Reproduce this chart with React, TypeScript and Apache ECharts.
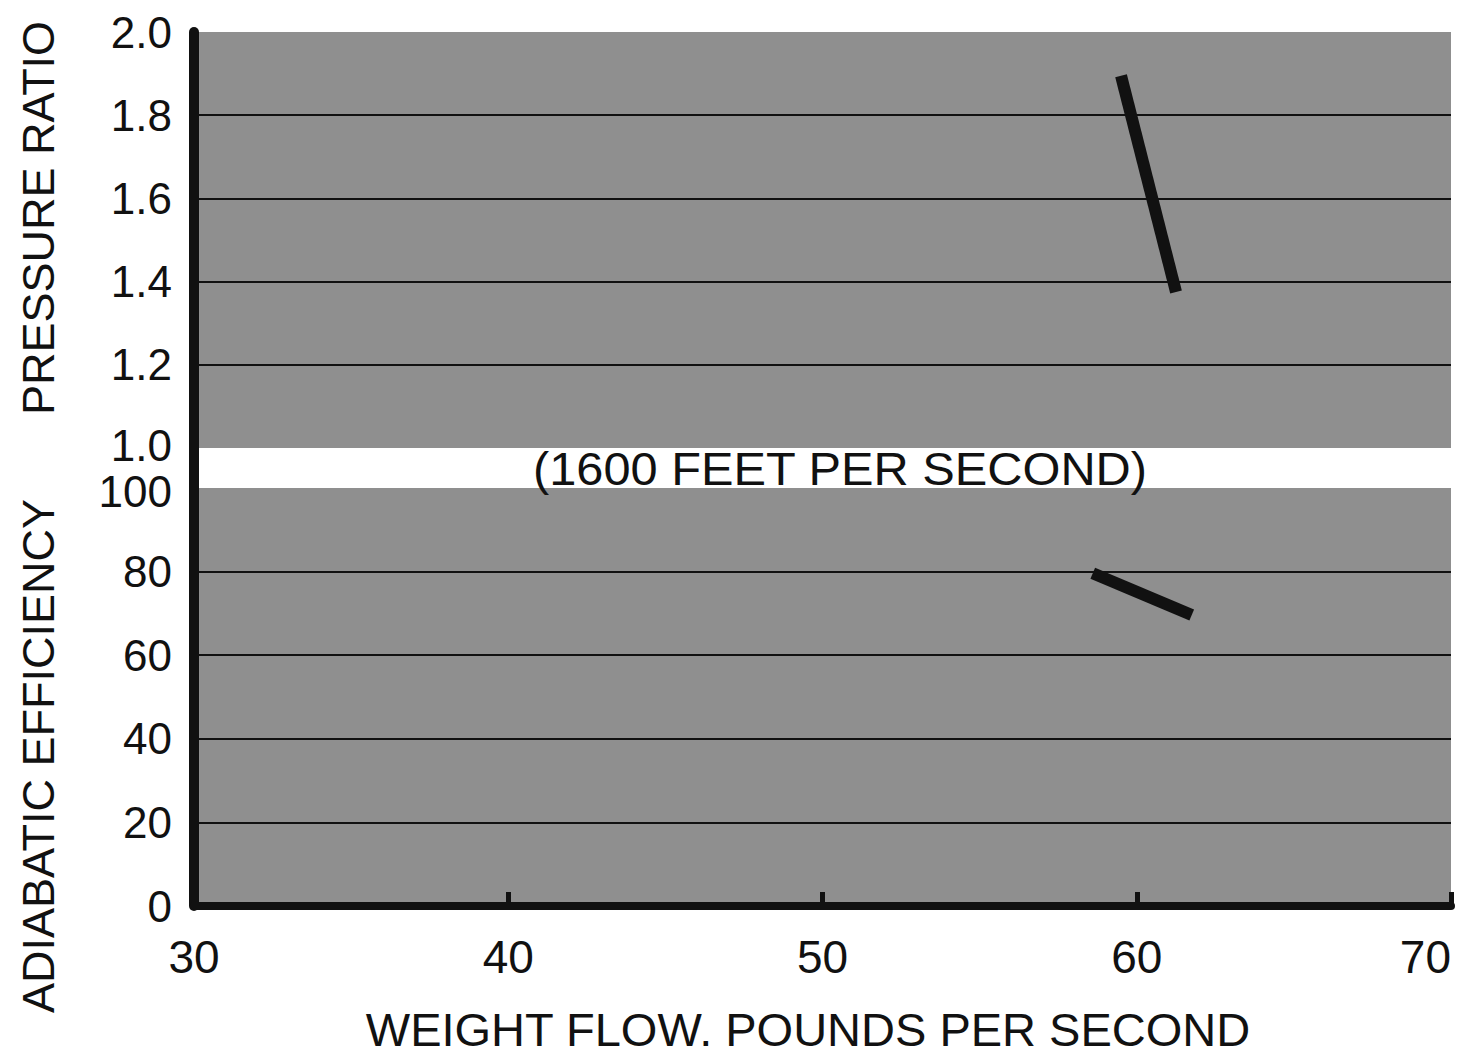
import React, { useEffect, useRef } from "react";
import * as echarts from "echarts";

const xRange = [30, 70];
const xTickStep = 10;
const pressureRange = [1.0, 2.0];
const pressureStep = 0.2;
const efficiencyRange = [0, 100];
const efficiencyStep = 20;

const pressureLine: [number, number][] = [
  [59.5, 1.895],
  [61.25, 1.375],
];
const efficiencyLine: [number, number][] = [
  [58.6, 79.6],
  [61.75, 69.6],
];

const titleTop = "PRESSURE RATIO";
const titleBottom = "ADIABATIC EFFICIENCY";
const xTitle = "WEIGHT FLOW. POUNDS PER SECOND";
const note = "(1600 FEET PER SECOND)";

const FONT = "Liberation Sans";
const GRAY = "#8f8f8f";
const INK = "#111111";

export default function App() {
  const ref = useRef<HTMLDivElement>(null);
  useEffect(() => {
    if (!ref.current) return;
    const chart = echarts.init(ref.current, undefined, { renderer: "svg" });
    const gridCommon = {
      left: 194,
      right: 19,
      show: true,
      backgroundColor: GRAY,
      borderWidth: 0,
      containLabel: false,
      outerBoundsMode: "none",
    };
    const splitLine = {
      show: true,
      showMinLine: false,
      showMaxLine: false,
      lineStyle: { color: INK, width: 2 },
    };
    chart.setOption({
      animation: false,
      backgroundColor: "#ffffff",
      grid: [
        { ...gridCommon, top: 32, height: 416 },
        { ...gridCommon, top: 488, height: 418 },
      ],
      xAxis: [
        {
          type: "value",
          gridIndex: 0,
          min: xRange[0],
          max: xRange[1],
          interval: xTickStep,
          show: false,
          splitLine: { show: false },
        },
        {
          type: "value",
          gridIndex: 1,
          min: xRange[0],
          max: xRange[1],
          interval: xTickStep,
          splitLine: { show: false },
          axisLine: { show: true, onZero: false, lineStyle: { color: INK, width: 8 } },
          axisTick: { show: true, inside: true, length: 14, lineStyle: { color: INK, width: 5 } },
          axisLabel: {
            color: INK,
            fontFamily: FONT,
            fontSize: 46,
            margin: 28,
            alignMaxLabel: "right",
            formatter: (v: number) => String(v),
          },
        },
      ],
      yAxis: [
        {
          type: "value",
          gridIndex: 0,
          min: pressureRange[0],
          max: pressureRange[1],
          interval: pressureStep,
          splitLine,
          axisLine: { show: true, onZero: false, lineStyle: { color: INK, width: 10 } },
          axisTick: { show: false },
          axisLabel: {
            color: INK,
            fontFamily: FONT,
            fontSize: 44,
            margin: 22,
            formatter: (v: number) => (v <= pressureRange[0] + 1e-9 ? "{lo|" + v.toFixed(1) + "}" : v.toFixed(1)),
            rich: { lo: { fontFamily: FONT, fontSize: 44, color: INK, lineHeight: 36, padding: [0, 0, 6, 0] } },
          },
        },
        {
          type: "value",
          gridIndex: 1,
          min: efficiencyRange[0],
          max: efficiencyRange[1],
          interval: efficiencyStep,
          splitLine,
          axisLine: { show: true, onZero: false, lineStyle: { color: INK, width: 10 } },
          axisTick: { show: false },
          axisLabel: {
            color: INK,
            fontFamily: FONT,
            fontSize: 44,
            margin: 22,
            formatter: (v: number) => (v >= efficiencyRange[1] ? "{hi|" + Math.round(v) + "}" : String(Math.round(v))),
            rich: { hi: { fontFamily: FONT, fontSize: 44, color: INK, lineHeight: 36, padding: [6, 0, 0, 0] } },
          },
        },
      ],
      series: [
        {
          type: "line",
          xAxisIndex: 0,
          yAxisIndex: 0,
          data: pressureLine,
          symbol: "none",
          lineStyle: { color: INK, width: 12, cap: "butt" },
        },
        {
          type: "line",
          xAxisIndex: 1,
          yAxisIndex: 1,
          data: efficiencyLine,
          symbol: "none",
          lineStyle: { color: INK, width: 12, cap: "butt" },
        },
      ],
      graphic: [
        {
          type: "rect",
          shape: { x: 189, y: 446, width: 10, height: 44 },
          style: { fill: INK },
          z: 10,
        },
        {
          type: "text",
          x: 840,
          y: 469,
          scaleX: 1.06,
          style: {
            text: note,
            fontFamily: FONT,
            fontSize: 46,
            fill: INK,
            align: "center",
            verticalAlign: "middle",
          },
        },
        {
          type: "text",
          x: 38,
          y: 218,
          rotation: Math.PI / 2,
          style: {
            text: titleTop,
            fontFamily: FONT,
            fontSize: 45,
            fill: INK,
            align: "center",
            verticalAlign: "middle",
          },
        },
        {
          type: "text",
          x: 38,
          y: 756,
          rotation: Math.PI / 2,
          style: {
            text: titleBottom,
            fontFamily: FONT,
            fontSize: 45,
            fill: INK,
            align: "center",
            verticalAlign: "middle",
          },
        },
        {
          type: "text",
          x: 808,
          y: 1029,
          style: {
            text: xTitle,
            fontFamily: FONT,
            fontSize: 47,
            fill: INK,
            align: "center",
            verticalAlign: "middle",
          },
        },
      ],
    });
    return () => chart.dispose();
  }, []);
  return (
    <div
      ref={ref}
      style={{ position: "fixed", left: 0, top: 0, width: 1470, height: 1056 }}
    />
  );
}
